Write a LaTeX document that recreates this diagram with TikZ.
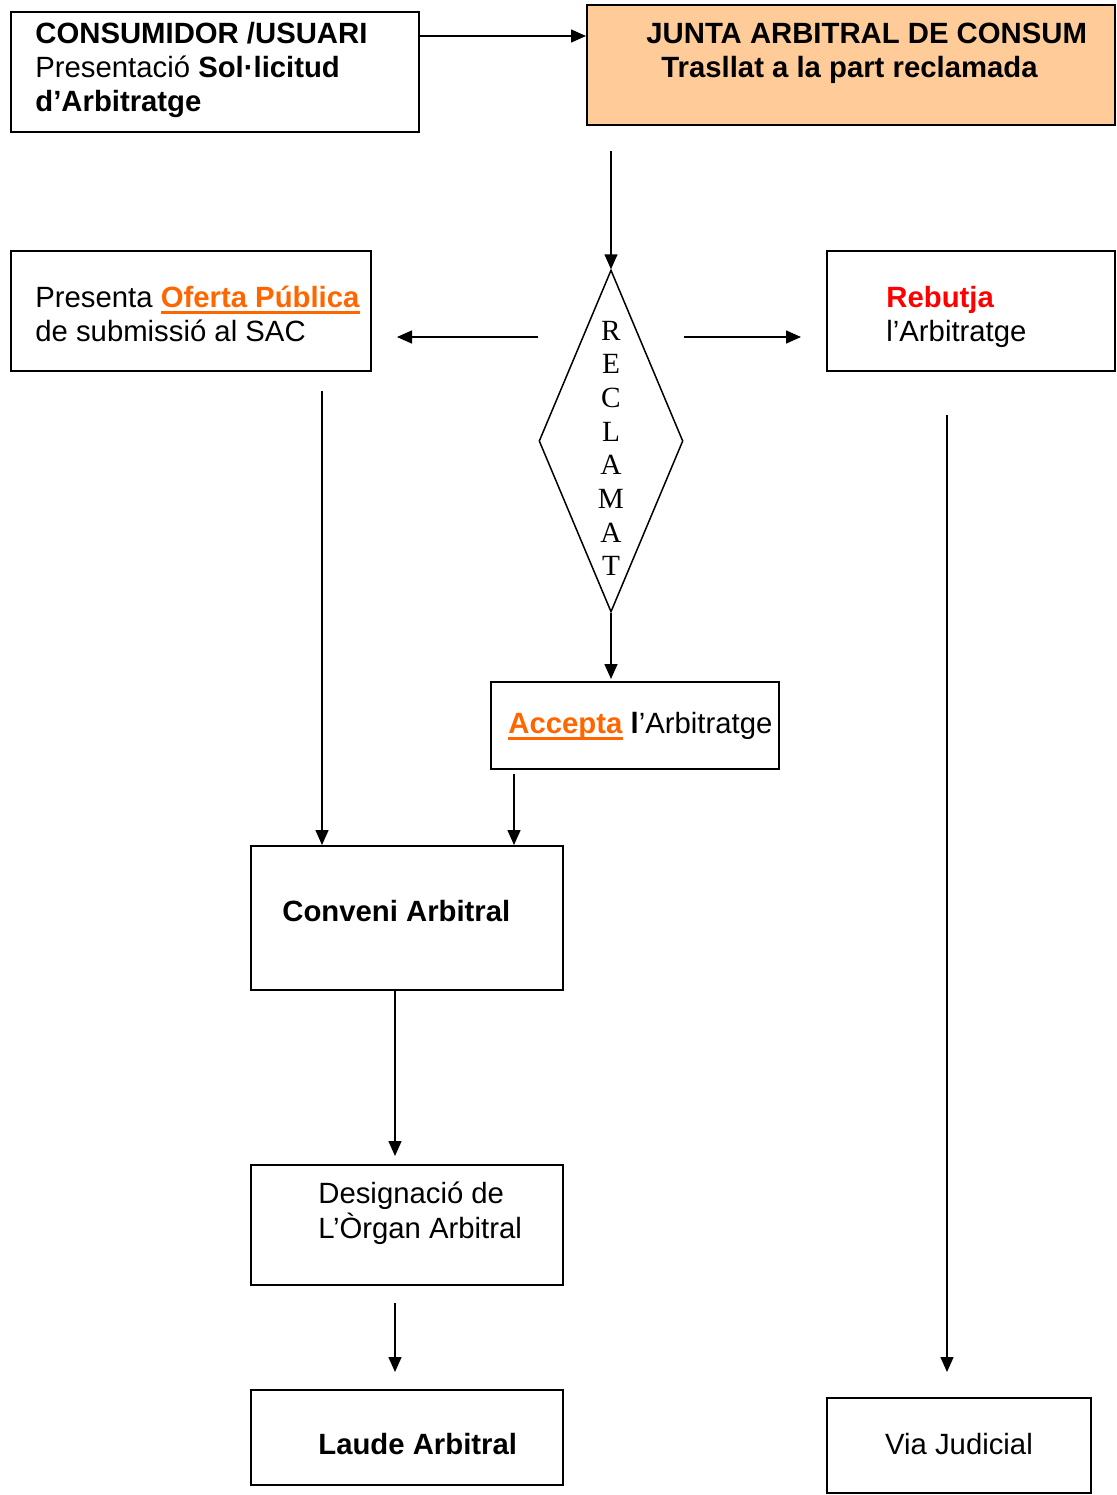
\documentclass[tikz,border=0pt]{standalone}
\usepackage{fontspec}
\setmainfont{Liberation Sans}
\newfontfamily\letterfont{Liberation Serif}
\usetikzlibrary{arrows.meta,shapes.geometric,positioning}
\definecolor{peach}{HTML}{FFCC99}
\definecolor{hotorange}{HTML}{FF6600}
\definecolor{rebutred}{HTML}{FF0000}
% orange, bold, underlined word
\newcommand{\hot}[1]{\textcolor{hotorange}{\setbox0\hbox{\textbf{#1}}\rlap{\rule[-3.4pt]{\wd0}{1.5pt}}\box0}}

\begin{document}
\begin{tikzpicture}[x=0.5pt,y=-0.5pt,
    box/.style={draw, line width=1pt, inner sep=0pt},
    txt/.style={anchor=base west, inner sep=0pt, font=\fontsize{14.65pt}{17pt}\selectfont},
    letter/.style={anchor=base, inner sep=0pt, font=\letterfont\fontsize{14.65pt}{17pt}\selectfont},
    arr/.style={-{Triangle[length=7.5pt,width=6.5pt]}, line width=0.75pt}]
    \useasboundingbox (0,0) rectangle (1117,1495);
    % boxes
    \node[box, fill=peach, minimum width=264pt, minimum height=60pt] (junta) at (851,65) {};
    \foreach \n/\x/\y/\w/\h in {cons/215/72/204/60, oferta/191/311/180/60, rebutja/971/311/144/60,
        accepta/635/725.5/144/43.5, conveni/407/918/156/72, design/407/1225/156/60,
        laude/407/1437.5/156/47.5, via/959/1445.5/132/47.5}
      { \node[box, minimum width=\w pt, minimum height=\h pt] (\n) at (\x,\y) {}; }
    \node[draw, diamond, line width=0.75pt, inner sep=0pt, minimum width=72pt, minimum height=171pt] (dia) at (611,441) {};
    \foreach \l [count=\i] in {R,E,C,L,A,M,A,T} { \node[letter] (l\i) at (611, 340+33.7*\i-33.7) {\l}; }
    % texts
    \node[txt] (cons-t) at (35,43) {\begin{tabular}[t]{@{}l@{}}\textbf{CONSUMIDOR /USUARI}\\ Presentació \textbf{Sol·licitud}\\ \textbf{d’Arbitratge}\end{tabular}};
    \node[txt] (junta-t) at (646,43) {\begin{tabular}[t]{@{}l@{}}\textbf{JUNTA ARBITRAL DE CONSUM}\\ \hspace*{7.5pt}\textbf{Trasllat a la part reclamada}\end{tabular}};
    \node[txt] (oferta-t) at (35,307) {\begin{tabular}[t]{@{}l@{}}Presenta \hot{Oferta Pública}\\ de submissió al SAC\end{tabular}};
    \node[txt] (rebutja-t) at (886,307) {\begin{tabular}[t]{@{}l@{}}\textcolor{rebutred}{\textbf{Rebutja}}\\ l’Arbitratge\end{tabular}};
    \node[txt] (accepta-t) at (508,733) {\hot{Accepta} \textbf{l}’Arbitratge};
    \node[txt] (conveni-t) at (282,921) {\textbf{Conveni Arbitral}};
    \node[txt] (design-t) at (318,1203) {\begin{tabular}[t]{@{}l@{}}Designació de\\ L’Òrgan Arbitral\end{tabular}};
    \node[txt] (laude-t) at (318,1454) {\textbf{Laude Arbitral}};
    \node[txt, anchor=base] (via-t) at (959,1454) {Via Judicial};
    % connectors
    \coordinate (split) at (611,337);
    \draw[arr] ([yshift=18pt]cons.east) -- ([yshift=18pt]cons.east -| junta.west);
    \draw[arr, shorten <=12.5pt] (dia.north |- junta.south) -- (dia.north);
    \draw[arr, shorten >=12.5pt] (split -| dia.west) -- (split -| oferta.east);
    \draw[arr, shorten >=12.5pt] (split -| dia.east) -- (split -| rebutja.west);
    \draw[arr, shorten >=1pt] (dia.south) -- (dia.south |- accepta.north);
    \draw[arr, shorten <=2pt] ([xshift=12pt]accepta.south west) -- ([xshift=12pt]accepta.south west |- conveni.north);
    \draw[arr, shorten <=9.5pt] ([xshift=36pt]conveni.north west |- oferta.south) -- ([xshift=36pt]conveni.north west);
    \draw[arr, shorten >=4pt] ([xshift=-6pt]conveni.south) -- ([xshift=-6pt]design.north);
    \draw[arr, shorten <=8.5pt, shorten >=8.5pt] ([xshift=-6pt]design.south) -- ([xshift=-6pt]laude.north);
    \draw[arr, shorten <=21.5pt, shorten >=12.5pt] ([xshift=-12pt]rebutja.south) -- ([xshift=-12pt]rebutja.south |- via.north);
\end{tikzpicture}
\end{document}
